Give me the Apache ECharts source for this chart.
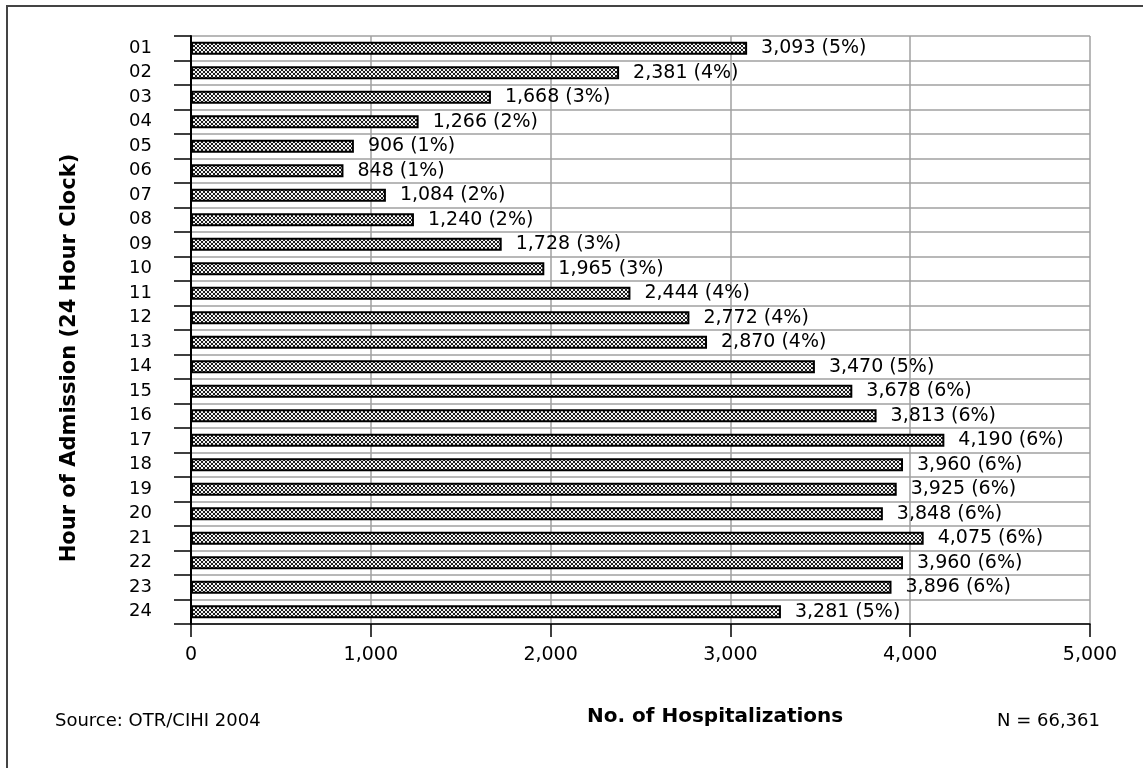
<!DOCTYPE html>
<html>
<head>
<meta charset="utf-8">
<script src="https://cdn.jsdelivr.net/npm/echarts@6/dist/echarts.min.js"></script>
<style>
html,body{margin:0;padding:0;background:#fff;}
#chart{width:1143px;height:768px;}
</style>
</head>
<body>
<div id="chart"></div>
<script>
var hours = ['01','02','03','04','05','06','07','08','09','10','11','12','13','14','15','16','17','18','19','20','21','22','23','24'];
var counts = [3093,2381,1668,1266,906,848,1084,1240,1728,1965,2444,2772,2870,3470,3678,3813,4190,3960,3925,3848,4075,3960,3896,3281];
var percents = [5,4,3,2,1,1,2,2,3,3,4,4,4,5,6,6,6,6,6,6,6,6,6,5];
var xTicks = [0,1000,2000,3000,4000,5000];
var xTitle = 'No. of Hospitalizations';
var yTitle = 'Hour of Admission (24 Hour Clock)';
var sourceText = 'Source: OTR/CIHI 2004';
var nText = 'N = 66,361';

function fmt(v){ return String(v).replace(/\B(?=(\d{3})+(?!\d))/g, ','); }

// diagonal crosshatch pattern tile
var tile = document.createElement('canvas');
tile.width = 4; tile.height = 4;
var tc = tile.getContext('2d');
tc.fillStyle = '#f4f4f4'; tc.fillRect(0,0,4,4);
tc.fillStyle = '#1e1e1e';
[[0,0],[1,1],[2,2],[3,3],[3,0],[2,1],[1,2],[0,3]].forEach(function(p){ tc.fillRect(p[0],p[1],1,1); });

var chart = echarts.init(document.getElementById('chart'), null, {renderer:'canvas'});
var option = {
  backgroundColor:'#fff',
  animation:false,
  grid:{left:191, right:53, top:36, bottom:144, containLabel:false},
  xAxis:{
    type:'value', min:0, max:5000, interval:1000,
    axisLine:{show:true, lineStyle:{color:'#000', width:1.5}},
    axisTick:{show:true, length:13, lineStyle:{color:'#000', width:1.5}},
    axisLabel:{fontFamily:'DejaVu Sans', fontSize:19, color:'#000', margin:22,
      formatter:function(v){ return fmt(v); }},
    splitLine:{show:true, lineStyle:{color:'#a0a0a0', width:1.5}}
  },
  yAxis:{
    type:'category', data:hours, inverse:true,
    axisLine:{show:true, lineStyle:{color:'#000', width:2}},
    axisTick:{show:true, length:17, alignWithLabel:false, lineStyle:{color:'#000', width:1.5}},
    axisLabel:{fontFamily:'DejaVu Sans', fontSize:18, color:'#000', margin:39},
    splitLine:{show:true, interval:0, lineStyle:{color:'#a0a0a0', width:1.5}}
  },
  series:[{
    type:'bar',
    data:counts,
    barWidth:13,
    itemStyle:{color:{image:tile, repeat:'repeat'}, borderColor:'#000', borderWidth:2},
    label:{show:true, position:'right', distance:14, fontFamily:'DejaVu Sans', fontSize:19, color:'#000',
      formatter:function(p){ return fmt(p.value) + ' (' + percents[p.dataIndex] + '%)'; }}
  }],
  graphic:[
    {type:'rect', shape:{x:7, y:6, width:1300, height:900}, style:{fill:null, stroke:'#444', lineWidth:2}, silent:true},
    {type:'text', left:587, top:707, style:{text:xTitle, font:'bold 20px "DejaVu Sans"', fill:'#000'}},
    {type:'text', left:55, top:712, style:{text:sourceText, font:'18px "DejaVu Sans"', fill:'#000'}},
    {type:'text', left:997, top:712, style:{text:nText, font:'18px "DejaVu Sans"', fill:'#000'}},
    {type:'text', x:70, y:358, rotation:Math.PI/2,
      style:{text:yTitle, font:'bold 21px "DejaVu Sans"', fill:'#000', textAlign:'center', textVerticalAlign:'middle'}}
  ]
};
chart.setOption(option);
</script>
</body>
</html>
